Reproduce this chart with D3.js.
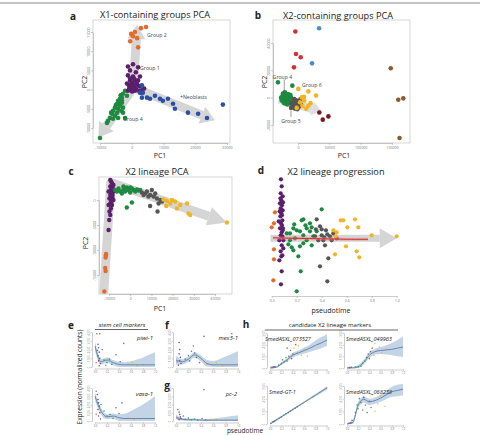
<!DOCTYPE html>
<html>
<head>
<meta charset="utf-8">
<script src="https://cdn.jsdelivr.net/npm/d3@7"></script>
<style>
  body { margin: 0; background: #fff; }
  text { font-family: "Open Sans", sans-serif; }
</style>
</head>
<body>
<div id="fig"></div>
<script>
// ---- data (PCA values in thousands) ----
var aOrange = [[2.9,16.0],[4.5,16.3],[-0.2,14.5],[0.4,13.9],[1.7,13.4],[-0.5,12.6],[2.0,11.0],[1.0,15.0]];
var aPurple = [[-1.2,6.0],[0.4,6.6],[2.0,5.8],[-0.55,5.0],[1.3,4.5],[-1.2,3.7],[0.4,3.4],[2.6,3.4],[-0.55,2.4],[0.1,1.8],
  [1.0,2.4],[1.7,1.3],[-0.9,1.1],[-0.2,0.5],[0.7,0.8],[1.3,0.3],[2.3,-0.3],[-1.2,-0.3],[0.1,-0.5],[2.9,-0.8],[3.9,0.3],
  [-0.55,2.9],[0.7,2.9],[2.0,2.4],[-1.5,1.6],[-0.2,1.3],[1.0,-0.3],[0.4,0],[0.2,1.0],[1.5,1.5],[-0.8,0.2],[2.5,0.9],[1.0,1.2],[3.2,-0.2]];
var aBlue = [[3.2,1.1],[2.6,-0.8],[3.2,-2.1],[5.75,-2.4],[7.3,-1.6],[8.9,-2.4],[9.8,-2.9],[11.4,-2.4],[13.0,-3.7],[13.6,-5.0],
  [17.7,-6.0],[20.9,-6.3],[23.7,-7.4],[28.7,-3.9],[3.5,-0.8],[4.8,-2.1]];
var aGreen = [[-2.1,-0.3],[-2.75,-1.1],[-3.1,-2.1],[-3.7,-2.4],[-4.3,-2.9],[-3.1,-3.4],[-4.6,-3.7],[-3.7,-4.2],[-5.3,-4.7],[-4.3,-5.0],
  [-5.9,-5.5],[-2.75,-4.7],[-4.6,-6.0],[-6.2,-6.3],[-5.3,-6.8],[-6.85,-7.4],[-4.3,-7.4],[-5.9,-7.6],[-7.5,-8.2],[-2.75,-6.0],
  [-2.1,-7.4],[-10,-12.6],[-7.8,-8.7],[-3.1,-2.9],[-1.5,-1.6],[-3.5,-1.5],[-4.0,-3.3],[-5.0,-4.0],[-3.3,-5.5],[-6.5,-6.0]];
var aArrowCenter = [0.5, 0.5];
var aArrowTips = [[1.7,16.8],[-10.5,-12.5],[26.2,-8.0]];

var bRed = [[-4.3,48.4],[-3.2,32.0],[4.3,29.6],[-6.4,22.2]];
var bLtBlue = [[33.6,50.8],[22.4,25.1]];
var bBrown = [[148,21.5],[160,-1.5],[168,-0.5],[162,-29.5]];
var bMaroon = [[34,-10.8],[39.5,-16.1],[48.5,-13.7]];
var bGreen = [[-32,11.2],[-9,8.8],[-25,1],[-22,2],[-20,3],[-18,2.5],[-16,1.5],[-24,-1],[-21,0],[-19,-1],[-17,0.5],[-15,-0.5],
  [-13,1],[-23,-3],[-20,-2.5],[-18,-3.5],[-16,-2],[-14,-3],[-12,-1.5],[-26,-2],[-22,-4],[-19,-4.5],[-11,0],[-27,0],
  [-15,2.5],[-13,-4],[-10,-2],[-24,3],[-17,-5],[-21,4],[-12,2],[-9,-3.5]];
var bGray = [[-10,-4],[-8,-5],[-6,-3],[-4,-6],[-2,-4.5],[0,-7],[-7,-7],[-5,-8],[-3,-2],[1,-5],[3,-3],[-9,-6],[-1,-8.5],
  [2,-6.5],[-6,-1],[4,-1],[-11,-7.5],[0,-2.5],[5,-5]];
var bYellow = [[0.5,6.4],[16.5,4.6],[28.8,1.5],[6,0.2],[9.6,0.7],[3.2,-3.4],[16.5,-5.9],[-2,-7.5],[10,-2],[13,-8],[20,-4],[7,-6]];
var bBand = [[-30,-1],[38,-10]];

var cPurple = [[-9.0,3.7],[-8.5,3.3],[-9.4,2.7],[-8.2,2.3],[-9.1,2.0],[-8.6,1.3],[-9.4,1.0],[-8.4,0.5],[-9.0,0],[-9.4,-0.7],
  [-8.6,-1.0],[-9.1,-1.7],[-9.8,-2.3],[-9.4,-3.0],[-9.9,-4.0],[-10.2,-6.0],[-9.4,4.0],[-7.9,3.0],[-10.2,1.7],[-7.9,1.7],
  [-9.8,0.3],[-7.9,0],[-10.2,-1.0],[-8.8,2.9],[-8.3,1.0],[-8.9,-0.4]];
var cOrange = [[-11.4,-10.8],[-11.5,-11.1],[-11.6,-11.5],[-11.8,-13.6],[-11.6,-14.2],[-12.2,-18.3]];
var cGreen = [[-7.1,2.0],[-5.5,2.3],[-4.7,1.7],[-3.2,2.1],[-2.4,1.7],[-1.6,2.5],[-0.8,2.0],[0,1.5],[0.8,2.3],[1.6,2.0],
  [2.4,1.7],[3.2,2.1],[3.9,1.9],[-3.9,1.3],[-6.3,1.7],[-1.6,-1.5],[0.8,-0.5],[4.7,2.0],[0,2.5],[-3.2,2.7]];
var cGray = [[5.5,1.5],[7.1,1.3],[7.9,1.7],[9.4,1.0],[10.2,2.0],[11.0,0.7],[12.6,0.3],[14.2,0],[15.0,-0.3],[9.4,-1.2],
  [12.9,-2.3],[6.3,1.0],[11.8,1.3],[8.6,0.7],[13.4,-0.7]];
var cYellow = [[15.7,0.1],[17.3,-0.2],[19.7,0],[21.2,-0.3],[17.0,-1.2],[22.0,-1.7],[26.8,-0.7],[27.5,-2.7],[28.3,-3.0],
  [45.6,-4.5],[18.9,-0.7],[23.6,-1.0]];
var cArrow = [[-12.5,-18.8],[-9.2,3.5],[45.6,-4.5]];

// pseudotime, vertical spread (arbitrary units)
var dPurple = [[0.074,5.9],[0.08,5.2],[0.072,4.5],[0.088,4.2],[0.077,3.8],[0.066,3.5],[0.082,3.3],[0.072,3.0],[0.088,2.8],
  [0.077,2.5],[0.069,2.2],[0.085,1.8],[0.074,1.5],[0.082,1.3],[0.066,1.0],[0.088,0.8],[0.08,0.6],[0.072,0.3],[0.085,0.2],
  [0.061,-0.2],[0.08,-0.7],[0.093,-1.0],[0.072,-1.3],[0.085,-1.7],[0.077,-1.8],[0.061,-2.2],[0.08,-3.3],[0.074,-4.6],
  [0.093,-0.2],[0.082,2.3],[0.056,1.7],[0.07,4.0],[0.09,3.6],[0.064,2.7],[0.09,1.0]];
var dOrange = [[0.026,2.6],[0.0,1.1],[0.018,1.5],[0.018,-1.1],[0.018,-2.1],[0.013,-4.2]];
var dGreen = [[0.40,2.9],[0.24,1.8],[0.253,1.9],[0.173,1.0],[0.146,0.5],[0.2,0.8],[0.226,0.7],[0.28,1.0],[0.306,0.7],[0.32,1.1],
  [0.253,0.3],[0.186,0],[0.146,-0.2],[0.133,-0.6],[0.16,-0.9],[0.226,-0.8],[0.28,-0.2],[0.253,-0.5],[0.333,0.2],[0.213,-1.8],
  [0.2,-5.3],[0.232,-3.3],[0.36,0.7],[0.306,1.5],[0.12,0.5],[0.173,-1.2],[0.32,-0.7],[0.27,1.3],[0.18,1.4]];
var dGray = [[0.36,1.9],[0.386,1.2],[0.434,0.8],[0.445,0.4],[0.40,0.3],[0.466,0.2],[0.413,-0.2],[0.373,-0.2],[0.426,-0.7],
  [0.48,-0.2],[0.453,-2.0],[0.386,-2.8],[0.445,-4.3],[0.354,0.9],[0.493,0.5],[0.52,0],[0.346,0.2],[0.40,0.9],[0.42,0.1]];
var dYellow = [[0.552,1.8],[0.573,1.8],[0.605,1.1],[0.666,1.9],[0.693,1.1],[0.493,0.8],[0.52,0.6],[0.512,0.2],[0.594,-0.8],
  [0.506,-1.6],[0.68,-1.3],[0.70,-1.9],[0.80,0.3],[1.0,0.2]];
var dFit = [[0.01,0.05],[0.2,0.0],[0.4,-0.05],[0.6,-0.1],[0.77,-0.1]];
var pseudoTicks = [0, 0.2, 0.4, 0.6, 0.8, 1.0];

// small marker panels: fitted curve on this grid, with band
var tGrid = [0, 0.1, 0.2, 0.3, 0.4, 0.5, 0.6, 0.7, 0.8, 0.9, 1.0];
var geneNames = ["piwi-1", "vasa-1", "mex3-1", "pc-2", "SmedASXL_073527", "SmedASXL_049963", "Smed-GT-1", "SmedASXL_068238"];
var geneMax = [4000, 4000, 4000, 4000, 3000, 3000, 3000, 3000];
var geneFit = [
  [2400, 600, 800, 500, 300, 250, 250, 250, 250, 250, 250],
  [3000, 1200, 500, 600, 400, 300, 300, 300, 300, 300, 300],
  [800, 600, 900, 1400, 1000, 400, 250, 250, 250, 250, 250],
  [500, 200, 150, 150, 120, 100, 100, 100, 100, 100, 100],
  [0, 50, 350, 700, 1100, 1300, 1500, 1700, 1950, 2150, 2400],
  [0, 0, 100, 500, 1100, 1400, 1500, 1550, 1600, 1700, 1800],
  [0, 290, 570, 860, 1140, 1430, 1710, 2000, 2280, 2570, 2850],
  [0, 100, 1500, 1950, 1750, 1850, 2050, 2300, 2550, 2650, 2750]];
var geneUpper = [
  [3000, 900, 1100, 800, 600, 550, 650, 850, 1100, 1400, 1700],
  [3500, 1600, 800, 900, 800, 900, 1200, 1600, 2000, 2500, 3000],
  [1300, 900, 1200, 1700, 1350, 800, 700, 900, 1200, 1500, 1800],
  [800, 350, 300, 280, 250, 250, 300, 400, 500, 600, 700],
  [150, 150, 450, 850, 1300, 1500, 1750, 2000, 2350, 2650, 2900],
  [100, 100, 250, 700, 1350, 1650, 1800, 1950, 2150, 2400, 2700],
  [80, 370, 640, 930, 1210, 1500, 1790, 2090, 2380, 2690, 3000],
  [100, 300, 1750, 2200, 2000, 2100, 2350, 2650, 2950, 3100, 3250]];
var geneLower = [
  [1800, 300, 500, 200, 0, 0, 0, 0, 0, 0, 0],
  [2500, 800, 200, 300, 0, 0, 0, 0, 0, 0, 0],
  [300, 300, 600, 1100, 650, 50, 0, 0, 0, 0, 0],
  [200, 50, 0, 20, 0, 0, 0, 0, 0, 0, 0],
  [0, 0, 250, 550, 900, 1100, 1250, 1400, 1550, 1700, 1900],
  [0, 0, 0, 300, 850, 1150, 1200, 1150, 1100, 1000, 950],
  [0, 210, 500, 790, 1070, 1360, 1630, 1910, 2180, 2450, 2700],
  [0, 0, 1250, 1700, 1500, 1600, 1750, 1950, 2150, 2200, 2250]];
var genePoints = [
  [[0.03,3800,"k"],[0.08,3800,"k"],[0.05,2600,"p"],[0.06,2200,"p"],[0.07,1700,"p"],[0.05,1300,"p"],[0.08,1000,"p"],[0.06,700,"p"],
   [0.09,400,"p"],[0.07,150,"p"],[0.04,1900,"k"],[0.12,2000,"k"],[0.15,800,"g"],[0.2,500,"g"],[0.24,900,"g"],[0.28,300,"g"],
   [0.18,200,"g"],[0.35,1400,"k"],[0.42,600,"k"],[0.48,2700,"k"],[0.55,300,"y"],[0.62,500,"y"],[0.7,150,"y"],[0.8,250,"y"],[0.02,500,"o"]],
  [[0.02,3600,"k"],[0.04,3200,"p"],[0.05,2600,"p"],[0.06,2200,"p"],[0.07,1800,"p"],[0.05,1400,"p"],[0.08,1000,"p"],[0.06,600,"p"],
   [0.09,250,"p"],[0.1,2000,"k"],[0.15,1200,"g"],[0.2,600,"g"],[0.25,800,"g"],[0.3,300,"g"],[0.35,1600,"k"],[0.4,900,"k"],
   [0.45,2200,"k"],[0.55,400,"y"],[0.65,200,"y"],[0.75,300,"y"],[0.02,800,"o"]],
  [[0.05,2800,"p"],[0.06,2000,"p"],[0.05,1500,"p"],[0.07,1100,"p"],[0.06,700,"p"],[0.08,400,"p"],[0.04,200,"p"],[0.02,600,"o"],
   [0.15,900,"g"],[0.2,1300,"g"],[0.22,700,"g"],[0.25,1800,"k"],[0.3,1600,"k"],[0.28,2400,"k"],[0.33,1100,"g"],[0.38,500,"k"],
   [0.45,3500,"k"],[0.5,300,"y"],[0.6,200,"y"],[0.65,500,"y"],[0.75,100,"y"],[0.9,3800,"k"]],
  [[0.03,1400,"p"],[0.05,1100,"p"],[0.06,800,"p"],[0.07,500,"p"],[0.08,300,"p"],[0.05,150,"p"],[0.02,300,"o"],[0.12,600,"k"],
   [0.15,200,"g"],[0.2,350,"g"],[0.25,150,"g"],[0.3,250,"g"],[0.35,100,"k"],[0.42,300,"k"],[0.48,150,"k"],[0.55,100,"y"],
   [0.65,200,"y"],[0.8,100,"y"],[0.45,3800,"k"]],
  [[0.05,50,"p"],[0.07,100,"p"],[0.09,80,"p"],[0.03,30,"o"],[0.15,250,"g"],[0.2,400,"g"],[0.22,700,"g"],[0.25,550,"g"],
   [0.28,900,"g"],[0.3,600,"g"],[0.33,1000,"k"],[0.36,1500,"k"],[0.38,800,"k"],[0.4,1200,"k"],[0.42,1700,"y"],[0.45,2000,"k"],
   [0.48,1300,"y"],[0.5,1900,"y"],[0.55,1100,"y"],[0.6,1600,"y"],[0.66,1000,"y"],[0.3,1700,"k"]],
  [[0.05,30,"p"],[0.08,60,"p"],[0.03,20,"o"],[0.15,80,"g"],[0.2,100,"g"],[0.25,150,"g"],[0.28,400,"g"],[0.32,600,"g"],
   [0.35,900,"k"],[0.38,1200,"k"],[0.4,800,"k"],[0.42,1400,"k"],[0.45,1700,"k"],[0.48,1100,"y"],[0.5,2100,"y"],[0.55,1500,"y"],
   [0.58,1800,"y"],[0.62,1300,"y"],[0.7,1600,"y"]],
  [[0.02,60,"o"],[0.05,150,"p"],[0.07,200,"p"],[0.09,260,"p"],[0.12,350,"k"],[0.16,450,"g"],[0.2,560,"g"],[0.24,690,"g"],
   [0.28,800,"g"],[0.32,900,"g"],[0.36,1030,"k"],[0.4,1140,"k"],[0.44,1250,"k"],[0.48,1370,"k"],[0.52,1480,"y"],[0.58,1650,"y"],
   [0.65,1850,"y"],[0.75,2140,"y"],[0.9,2560,"y"],[1.0,2850,"y"]],
  [[0.04,60,"p"],[0.07,100,"p"],[0.09,300,"p"],[0.03,30,"o"],[0.15,900,"g"],[0.18,1500,"g"],[0.2,1200,"g"],[0.22,2000,"g"],
   [0.25,1700,"g"],[0.28,1100,"g"],[0.3,2100,"k"],[0.33,1500,"k"],[0.36,900,"k"],[0.4,1800,"k"],[0.43,1300,"k"],[0.46,2300,"y"],
   [0.5,1000,"y"],[0.55,1600,"y"],[0.6,2200,"y"],[0.68,1400,"y"]]];

// ---- colours ----
var col = {
  orange: "#e46b2a", purple: "#5b1f6c", green: "#1d8a3f", blue: "#2b4fa5", red: "#d3302f",
  ltblue: "#4d8bcb", brown: "#8b5b2c", maroon: "#7a1428", gray: "#555555", yellow: "#f1b425", arrow: "#d5d5d5"
};
var keyCol = { p: col.purple, g: col.green, k: col.gray, y: col.yellow, o: col.orange };

var svg = d3.select("#fig").append("svg")
  .attr("width", 480)
  .attr("height", 435);

// top rule
svg.append("line").attr("x1", 0).attr("x2", 480).attr("y1", 3).attr("y2", 3)
  .attr("stroke", "#888").attr("stroke-width", 1);

function label(x, y, t, size, opts) {
  opts = opts || {};
  return svg.append("text")
    .attr("x", x).attr("y", y)
    .attr("text-anchor", opts.anchor || "middle")
    .attr("transform", opts.rotate ? `rotate(-90, ${x}, ${y})` : null)
    .style("font-size", size + "px")
    .style("font-weight", opts.bold ? "bold" : "normal")
    .style("font-style", opts.italic ? "italic" : "normal")
    .attr("fill", opts.fill || "#222")
    .text(t);
}

function styleAxis(g, fs, rotate) {
  g.selectAll("path, line").attr("stroke", "#999").attr("stroke-width", 0.5);
  g.selectAll("text").attr("fill", "#777").style("font-size", fs + "px");
  if (rotate) {
    g.selectAll("text")
      .attr("transform", "rotate(-90)")
      .attr("x", 0).attr("y", rotate).attr("dy", 0)
      .style("text-anchor", "middle");
  }
}

function dots(g, data, xs, ys, color, r) {
  g.selectAll(null).data(data).enter().append("circle")
    .attr("cx", d => xs(d[0]))
    .attr("cy", d => ys(d[1]))
    .attr("r", r)
    .attr("fill", color);
}

// thick arrow built on pixel points from the scales
function arrow(g, pts, bandW, headW, headL, color) {
  var n = pts.length, a = pts[n - 2], b = pts[n - 1];
  var dx = b[0] - a[0], dy = b[1] - a[1], len = Math.hypot(dx, dy);
  var ux = dx / len, uy = dy / len;
  var base = [b[0] - ux * headL, b[1] - uy * headL];
  g.append("path")
    .attr("d", d3.line()(pts.slice(0, n - 1).concat([base])))
    .attr("fill", "none").attr("stroke", color).attr("stroke-width", bandW)
    .attr("stroke-linejoin", "round");
  g.append("path")
    .attr("d", d3.line()([b, [base[0] - uy * headW / 2, base[1] + ux * headW / 2], [base[0] + uy * headW / 2, base[1] - ux * headW / 2]]) + "Z")
    .attr("fill", color);
}

function pcaFrame(box, xs, ys, xticks, yticks) {
  svg.append("rect")
    .attr("x", box[0]).attr("y", box[1])
    .attr("width", box[2] - box[0]).attr("height", box[3] - box[1])
    .attr("fill", "none").attr("stroke", "#bbb").attr("stroke-width", 0.6);
  var gx = svg.append("g").attr("transform", `translate(0, ${box[3]})`)
    .call(d3.axisBottom(xs).tickValues(xticks).tickFormat(d => d * 1000).tickSize(2).tickSizeOuter(0).tickPadding(1.5));
  styleAxis(gx, 3.6);
  var gy = svg.append("g").attr("transform", `translate(${box[0]}, 0)`)
    .call(d3.axisLeft(ys).tickValues(yticks).tickFormat(d => d * 1000).tickSize(2).tickSizeOuter(0));
  styleAxis(gy, 3.6, -3.5);
}

// ===== panel a =====
var ax = d3.scaleLinear().domain([-10, 30]).range([100, 227]);
var ay = d3.scaleLinear().domain([-10, 15]).range([128, 32]);
pcaFrame([93, 20, 230, 143], ax, ay, [-10, 0, 10, 20, 30], [-10, -5, 0, 5, 10, 15]);
var ga = svg.append("g");
aArrowTips.forEach(function(t) {
  arrow(ga, [[ax(aArrowCenter[0]), ay(aArrowCenter[1])], [ax(t[0]), ay(t[1])]], 9, 18, 14, col.arrow);
});
dots(ga, aGreen, ax, ay, col.green, 2.3);
dots(ga, aPurple, ax, ay, col.purple, 2.3);
dots(ga, aBlue, ax, ay, col.blue, 2.3);
dots(ga, aOrange, ax, ay, col.orange, 2.3);
label(ax(4.8), ay(14.2) + 2, "Group 2", 5.2, { anchor: "start", fill: "#444" });
label(ax(2.6), ay(5.5) + 2, "Group 1", 5.2, { anchor: "start", fill: "#444" });
label(ax(15.2), ay(-1.8) + 2, "+Neoblasts", 5.2, { anchor: "start", fill: "#444" });
label(ax(-2.75), ay(-7.6) + 2, "Group 4", 5.2, { anchor: "start", fill: "#444" });
label(73, 20, "a", 10, { bold: true });
label(155, 18, "X1-containing groups PCA", 9.2);
label(160, 157.5, "PC1", 7);
label(86.5, 82, "PC2", 7, { rotate: true });

// ===== panel b =====
var bx = d3.scaleLinear().domain([0, 150]).range([298, 392]);
var by = d3.scaleLinear().domain([-20, 40]).range([125, 43]);
pcaFrame([273, 20, 410, 143], bx, by, [0, 50, 100, 150], [-20, 0, 20, 40]);
var gb = svg.append("g");
arrow(gb, [[bx(bBand[0][0]), by(bBand[0][1])], [bx(bBand[1][0]), by(bBand[1][1])]], 9, 14, 10, "#dedede");
dots(gb, bGreen, bx, by, col.green, 2.3);
dots(gb, bGray, bx, by, col.gray, 2.3);
dots(gb, bYellow, bx, by, col.yellow, 2.3);
dots(gb, bRed, bx, by, col.red, 2.3);
dots(gb, bLtBlue, bx, by, col.ltblue, 2.3);
dots(gb, bBrown, bx, by, col.brown, 2.3);
dots(gb, bMaroon, bx, by, col.maroon, 2.3);
gb.append("line").attr("x1", bx(-21.9)).attr("x2", bx(-21.9)).attr("y1", by(13.2)).attr("y2", by(3.7))
  .attr("stroke", "#555").attr("stroke-width", 0.6);
gb.append("line").attr("x1", bx(-11.2)).attr("x2", bx(-11.2)).attr("y1", by(-9.5)).attr("y2", by(-14.2))
  .attr("stroke", "#555").attr("stroke-width", 0.6);
label(bx(-24.8), by(14.9) + 2, "Group 4", 5.2, { fill: "#444" });
label(bx(6.4), by(9.5) + 2, "Group 6", 5.2, { anchor: "start", fill: "#444" });
label(bx(-11.2), by(-17.2) + 2, "Group 5", 5.2, { fill: "#444" });
label(258, 19, "b", 10, { bold: true });
label(338, 19, "X2-containing groups PCA", 9.2);
label(344, 157.5, "PC1", 7);
label(267, 82, "PC2", 7, { rotate: true });

// ===== panel c =====
var cx = d3.scaleLinear().domain([-10, 40]).range([109, 215]);
var cy = d3.scaleLinear().domain([-15, 0]).range([275, 200]);
pcaFrame([99, 177, 232, 294], cx, cy, [-10, 0, 10, 20, 30, 40], [-15, -10, -5, 0]);
var gc = svg.append("g");
arrow(gc, cArrow.map(d => [cx(d[0]), cy(d[1])]), 9, 19, 19, col.arrow);
dots(gc, cOrange, cx, cy, col.orange, 2.2);
dots(gc, cPurple, cx, cy, col.purple, 2.2);
dots(gc, cGreen, cx, cy, col.green, 2.2);
dots(gc, cGray, cx, cy, col.gray, 2.2);
dots(gc, cYellow, cx, cy, col.yellow, 2.2);
label(71, 175, "c", 10, { bold: true });
label(157, 174.5, "X2 lineage PCA", 9.2);
label(160, 311, "PC1", 7);
label(88, 243, "PC2", 7, { rotate: true });

// ===== panel d =====
var dx = d3.scaleLinear().domain([0, 1]).range([271.7, 396.7]);
var dy = d3.scaleLinear().domain([-6, 6]).range([298.3, 178.3]);
var gdAx = svg.append("g").attr("transform", "translate(0, 296)")
  .call(d3.axisBottom(dx).tickValues(pseudoTicks).tickFormat(d3.format(".1f")).tickSize(2).tickSizeOuter(0).tickPadding(1.5));
styleAxis(gdAx, 3.6);
var gd = svg.append("g");
arrow(gd, [[dx(-0.01), dy(0)], [dx(1.0), dy(0)]], 7, 20, 17, col.arrow);
dots(gd, dOrange, dx, dy, col.orange, 2.1);
dots(gd, dPurple, dx, dy, col.purple, 2.1);
dots(gd, dGreen, dx, dy, col.green, 2.1);
dots(gd, dGray, dx, dy, col.gray, 2.1);
dots(gd, dYellow, dx, dy, col.yellow, 2.1);
var fitLine = d3.line().x(d => dx(d[0])).y(d => dy(d[1])).curve(d3.curveBasis);
gd.append("path").attr("d", fitLine(dFit)).attr("fill", "none")
  .attr("stroke", "#e8908f").attr("stroke-width", 3).attr("opacity", 0.5);
gd.append("path").attr("d", fitLine(dFit)).attr("fill", "none")
  .attr("stroke", "#d8262c").attr("stroke-width", 1);
label(261, 174, "d", 10, { bold: true });
label(336, 175, "X2 lineage progression", 9.2);
label(331, 312.5, "pseudotime", 7);

// ===== panels e-h: marker genes along pseudotime =====
var panels = [
  { x0: 95, x1: 155, y0: 332, y1: 367, lx: 153, anchor: "end" },
  { x0: 95, x1: 155, y0: 388, y1: 421, lx: 153, anchor: "end" },
  { x0: 176, x1: 238, y0: 332, y1: 367, lx: 238, anchor: "end" },
  { x0: 176, x1: 238, y0: 388, y1: 421, lx: 237, anchor: "end" },
  { x0: 270, x1: 327, y0: 333, y1: 368, lx: 265, anchor: "start" },
  { x0: 347, x1: 403, y0: 333, y1: 368, lx: 346, anchor: "start" },
  { x0: 270, x1: 327, y0: 386, y1: 424, lx: 269, anchor: "start" },
  { x0: 347, x1: 403, y0: 386, y1: 424, lx: 346, anchor: "start" }];

panels.forEach(function(p, i) {
  var xs = d3.scaleLinear().domain([0, 1]).range([p.x0, p.x1]);
  var ys = d3.scaleLinear().domain([0, geneMax[i]]).range([p.y1, p.y0]);
  var g = svg.append("g");
  var band = tGrid.map((t, j) => [t, geneLower[i][j], geneUpper[i][j]]);
  g.append("path")
    .attr("d", d3.area().x(d => xs(d[0])).y0(d => ys(d[1])).y1(d => ys(Math.min(d[2], geneMax[i] * 1.05))).curve(d3.curveMonotoneX)(band))
    .attr("fill", "#b9cde2").attr("opacity", 0.85);
  g.selectAll(null).data(genePoints[i]).enter().append("circle")
    .attr("cx", d => xs(d[0])).attr("cy", d => ys(d[1])).attr("r", 0.8)
    .attr("fill", d => keyCol[d[2]]).attr("opacity", 0.8);
  g.append("path")
    .attr("d", d3.line().x((t) => xs(t)).y((t, j) => ys(geneFit[i][j])).curve(d3.curveMonotoneX)(tGrid))
    .attr("fill", "none").attr("stroke", "#5b7fa8").attr("stroke-width", 0.9);
  var gx = svg.append("g").attr("transform", `translate(0, ${p.y1 + 1.5})`)
    .call(d3.axisBottom(xs).tickValues(pseudoTicks).tickFormat(d3.format(".1f")).tickSize(1.2).tickSizeOuter(0).tickPadding(1));
  styleAxis(gx, 2.6);
  var gy = svg.append("g").attr("transform", `translate(${p.x0 - 3}, 0)`)
    .call(d3.axisLeft(ys).ticks(3).tickSize(1.2).tickSizeOuter(0));
  styleAxis(gy, 2.6, -2.5);
  label(p.lx, p.y0 + 8, geneNames[i], i < 4 ? 6 : 5.6, { anchor: p.anchor, italic: true });
});

label(71, 329, "e", 10, { bold: true });
label(167, 329, "f", 10, { bold: true });
label(167, 389, "g", 10, { bold: true });
label(246, 328, "h", 10, { bold: true });
label(122, 327, "stem cell markers", 6, { italic: true });
svg.append("line").attr("x1", 95).attr("x2", 148).attr("y1", 329.5).attr("y2", 329.5).attr("stroke", "#222").attr("stroke-width", 0.7);
label(330, 326.5, "candidate X2 lineage markers", 6);
svg.append("line").attr("x1", 265).attr("x2", 398).attr("y1", 330).attr("y2", 330).attr("stroke", "#222").attr("stroke-width", 0.7);
label(82, 377, "Expression (normalized counts)", 6.5, { rotate: true });
label(245, 433, "pseudotime", 6.5);
</script>
</body>
</html>
